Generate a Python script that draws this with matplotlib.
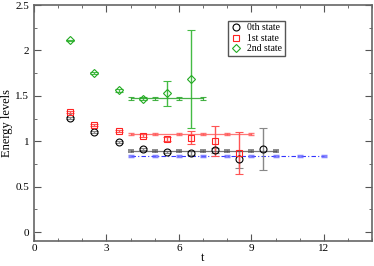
# Energy levels vs t, effective mass style plot
import numpy as np
import matplotlib.pyplot as plt
from matplotlib.lines import Line2D

# data points
t0 = [1.5, 2.5, 3.5, 4.5, 5.5, 6.5, 7.5, 8.5, 9.5]
e0 = [1.257, 1.103, 0.992, 0.915, 0.882, 0.871, 0.900, 0.800, 0.913]
err0 = [0.01, 0.01, 0.012, 0.012, 0.015, 0.02, 0.03, 0.09, 0.234]

t1 = [1.5, 2.5, 3.5, 4.5, 5.5, 6.5, 7.5, 8.5]
e1 = [1.323, 1.183, 1.117, 1.062, 1.025, 1.040, 1.000, 0.870]
err1 = [0.01, 0.01, 0.012, 0.015, 0.02, 0.07, 0.165, 0.23]

t2 = [1.5, 2.5, 3.5, 4.5, 5.5, 6.5]
e2 = [2.11, 1.753, 1.561, 1.47, 1.528, 1.69]
err2 = [0.01, 0.01, 0.015, 0.02, 0.137, 0.54]

# plateau fits
fit0_t = [4, 5, 6, 7, 8, 9, 10]
fit0 = 0.895
fit1_t = [4, 5, 6, 7, 8, 9]
fit1 = 1.08
fit2_t = [4, 5, 6, 7]
fit2 = 1.473
ref_t = [4, 5, 6, 7, 8, 9, 10, 11, 12]
ref = 0.841

labels = ['0th state', '1st state', '2nd state']

plt.rcParams['font.family'] = ['Liberation Serif', 'DejaVu Serif']
fig = plt.figure(figsize=(3.74, 2.66), dpi=100)
ax = fig.add_axes([0.091, 0.093, 0.904, 0.888])

# fit lines with small error bars at integer t
ax.errorbar(fit0_t, [fit0] * len(fit0_t), yerr=0.01, color='#555555', lw=0.9,
            capsize=2, elinewidth=0.8, capthick=1.2, alpha=0.8)
ax.errorbar(fit1_t, [fit1] * len(fit1_t), yerr=0.012, color='#ff5555', lw=0.9,
            capsize=2, elinewidth=0.8, capthick=1.0, alpha=0.8)
ax.errorbar(fit2_t, [fit2] * len(fit2_t), yerr=0.02, color='#33aa33', lw=0.9,
            capsize=2, elinewidth=0.8, capthick=0.8, alpha=0.9)
ax.plot(ref_t, [ref] * len(ref_t), color='#3333ff', lw=0.8, ls=(0, (4, 2, 1, 2)))
ax.plot(ref_t, [ref] * len(ref_t), ls='none', marker='_', ms=4.5, mew=2.5,
        color='#6666ff', alpha=0.8)

# data points
ax.errorbar(t0, e0, yerr=err0, fmt='o', mfc='none', mec='black', ms=5, mew=0.8,
            ecolor='#888888', elinewidth=1.0, capsize=3, capthick=1.0)
ax.errorbar(t1, e1, yerr=err1, fmt='s', mfc='none', mec='#ff2222', ms=5, mew=0.8,
            ecolor='#ff5555', elinewidth=1.0, capsize=3, capthick=1.0)
ax.errorbar(t2, e2, yerr=err2, fmt='D', mfc='none', mec='#22aa22', ms=4, mew=0.8,
            ecolor='#44bb44', elinewidth=1.0, capsize=3, capthick=1.0)

ax.set_xlim(0, 14)
ax.set_ylim(-0.1, 2.5)
ax.set_xticks([0, 3, 6, 9, 12])
ax.set_xticks(np.arange(0, 15, 1), minor=True)
ax.set_yticks([0, 0.5, 1, 1.5, 2, 2.5])
ax.set_yticklabels(['0', '0.5', '1', '1.5', '2', '2.5'])
ax.set_yticks(np.arange(0, 2.51, 0.25), minor=True)
ax.tick_params(which='both', direction='in', top=True, right=True, labelsize=8,
               color='#555555')
ax.tick_params(which='major', length=5)
ax.tick_params(which='minor', length=2.5)
ax.tick_params(axis='x', pad=2)
for s in ax.spines.values():
    s.set_color('#666666')
    s.set_linewidth(1.2)

ax.set_xlabel('t', fontsize=9, labelpad=-1)
ax.set_ylabel('Energy levels', fontsize=9, labelpad=2)

handles = [Line2D([], [], ls='none', marker='o', mfc='none', mec='black', ms=5, mew=0.8),
           Line2D([], [], ls='none', marker='s', mfc='none', mec='#ff2222', ms=5, mew=0.8),
           Line2D([], [], ls='none', marker='D', mfc='none', mec='#22aa22', ms=4, mew=0.8)]
ax.legend(handles, labels, loc='upper left', bbox_to_anchor=(0.56, 0.955), fontsize=7,
          handletextpad=0.6, borderpad=0.3, labelspacing=0.15,
          handlelength=1.0, fancybox=False, edgecolor='#555555', framealpha=1)

fig.savefig('out.png', dpi=100)
